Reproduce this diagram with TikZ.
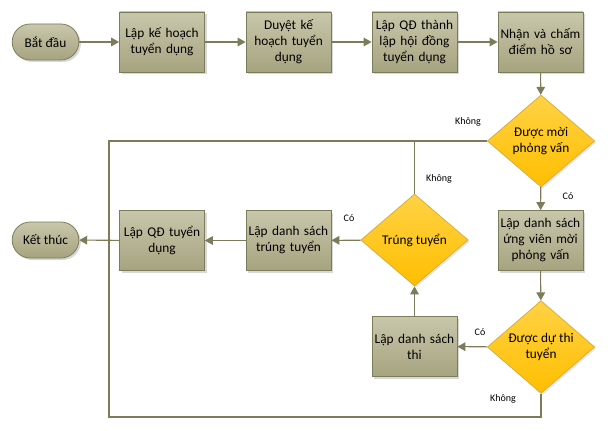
\documentclass[tikz,border=0pt]{standalone}
\usepackage{fontspec}
\setmainfont{Carlito}
\usetikzlibrary{shapes.geometric,shadows,arrows.meta}

\definecolor{olive}{HTML}{7C7B5A}
\definecolor{boxtop}{HTML}{C8C7AB}
\definecolor{boxbot}{HTML}{A6A37F}
\definecolor{goldtop}{HTML}{FFD245}
\definecolor{goldbot}{HTML}{FFBE00}
\definecolor{goldline}{HTML}{D9AE3A}

\tikzset{
  flow/.style={draw=olive,line width=.8pt,-{Triangle[length=6pt,width=6.5pt]}},
  loop/.style={draw=olive,line width=.8pt},
  task/.style={rectangle,draw=olive,line width=.6pt,top color=boxtop,bottom color=boxbot,
    minimum width=63.75pt,minimum height=45pt,text width=60pt,align=center,inner sep=1pt,
    font=\fontsize{10}{12}\selectfont,
    drop shadow={shadow xshift=1.8pt,shadow yshift=-1.8pt,fill=black!30,opacity=.5}},
  ask/.style={diamond,draw=goldline,line width=.6pt,top color=goldtop,bottom color=goldbot,
    minimum width=80.5pt,minimum height=69pt,inner sep=0pt,align=center,
    font=\fontsize{10}{12}\selectfont,
    drop shadow={shadow xshift=1.2pt,shadow yshift=-1.2pt,fill=black!25,opacity=.4}},
  term/.style={rectangle,rounded corners=13.5pt,draw=olive,line width=.6pt,top color=boxtop,bottom color=boxbot,
    minimum width=50pt,minimum height=27pt,font=\fontsize{10}{12}\selectfont,
    drop shadow={shadow xshift=1.5pt,shadow yshift=-1.5pt,fill=black!30,opacity=.5}},
  lbl/.style={font=\fontsize{7.5}{9}\selectfont,inner sep=0pt}
}

\begin{document}
\begin{tikzpicture}[x=0.75pt,y=-0.75pt]

\useasboundingbox (0,0) rectangle (610,431);

% first row
\node[term] (start) at (45.5,42) {Bắt đầu};
\node[task] (plan) at (162,42) {Lập kế hoạch\\tuyển dụng};
\node[task] (approve) at (288.5,42) {Duyệt kế\\hoạch tuyển\\dụng};
\node[task] (council) at (414.5,42) {Lập QĐ thành\\lập hội đồng\\tuyển dụng};
\node[task] (score) at (540.5,42) {Nhận và chấm\\điểm hồ sơ};

% right column
\node[ask] (invite) at (541,141) {Được mời\\phỏng vấn};
\node[task] (shortlist) at (540.5,240.5) {Lập danh sách\\ứng viên mời\\phỏng vấn};
\node[ask] (exam) at (541,347) {Được dự thi\\tuyển};

% back row
\node[task] (examlist) at (414.5,346.5) {Lập danh sách\\thi};
\node[ask] (pass) at (414.5,240) {Trúng tuyển};
\node[task] (passlist) at (288.5,240.5) {Lập danh sách\\trúng tuyển};
\node[task] (decide) at (162,240.5) {Lập QĐ tuyển\\dụng};
\node[term] (finish) at (45.5,240) {Kết thúc};

\coordinate (upleft) at (109,141);
\coordinate (lowleft) at (109,417);
\coordinate (lowright) at (541,417);

\draw[flow] (start) -- (plan);
\draw[flow] (plan) -- (approve);
\draw[flow] (approve) -- (council);
\draw[flow] (council) -- (score);
\draw[flow] (score) -- (invite);
\draw[flow] (invite) -- (shortlist);
\draw[flow] (shortlist) -- (exam);
\draw[flow] (exam) -- (examlist);
\draw[flow] (examlist) -- (pass);
\draw[flow] (pass) -- (passlist);
\draw[flow] (passlist) -- (decide);
\draw[flow] (decide) -- (finish);

% "no" branches
\draw[loop] (invite.west) -- (upleft) -- (lowleft) -- (lowright) -- (exam.south);
\draw[loop] (pass.north) -- (pass.north |- upleft);

\node[lbl] (no1) at (468,122) {Không};
\node[lbl] (no2) at (439,179) {Không};
\node[lbl] (no3) at (503,399) {Không};
\node[lbl] (yes1) at (568,196) {Có};
\node[lbl] (yes2) at (349,218) {Có};
\node[lbl] (yes3) at (480,332) {Có};

\end{tikzpicture}
\end{document}
